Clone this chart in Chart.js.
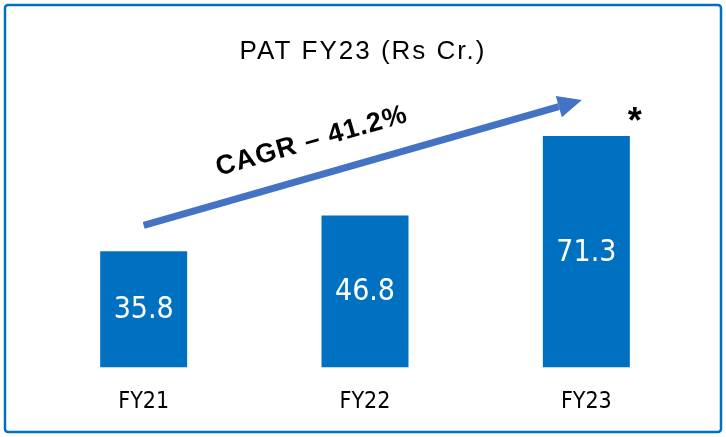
<!DOCTYPE html>
<html>
<head>
<meta charset="utf-8">
<title>PAT FY23</title>
<script src="https://cdn.jsdelivr.net/npm/chart.js@4/dist/chart.umd.min.js"></script>
<style>
    html, body { margin: 0; padding: 0; background: #ffffff; }
    #wrap { width: 726px; height: 437px; position: relative; }
</style>
</head>
<body>
<div id="wrap"><canvas id="graficaPat"></canvas></div>
<script>
// Datos del gráfico
var categorias = ['FY21', 'FY22', 'FY23'];
var valoresPat = [35.8, 46.8, 71.3];
var tituloGrafico = 'PAT FY23 (Rs Cr.)';
var textoCagr = 'CAGR \u2013 41.2%';
var marcaNota = '*';
// Flecha CAGR en coordenadas de datos (índice de categoría, valor)
var flechaDesde = { x: 0, y: 43.8 };
var flechaHasta = { x: 1.98, y: 82.4 };

var azulBarra = '#0070C0';
var azulFlecha = '#4472C4';
var fuenteNarrow = "'DejaVu Sans Condensed', 'Liberation Sans Narrow', sans-serif";
var fuenteNormal = "'Liberation Sans', Arial, sans-serif";

// Plugin: marco, título, flecha, texto CAGR y etiquetas
var pluginDecoracion = {
    id: 'decoracion',
    beforeDraw: function(chart) {
        var ctx = chart.ctx;
        ctx.save();
        ctx.fillStyle = '#ffffff';
        ctx.fillRect(0, 0, chart.width, chart.height);
        // Marco azul
        ctx.strokeStyle = azulBarra;
        ctx.lineWidth = 2.5;
        ctx.beginPath();
        ctx.roundRect(5, 5, chart.width - 10, chart.height - 10, 3);
        ctx.stroke();
        // Título
        ctx.fillStyle = '#000000';
        ctx.font = '26px ' + fuenteNormal;
        ctx.letterSpacing = '2px';
        ctx.textAlign = 'center';
        ctx.textBaseline = 'alphabetic';
        ctx.fillText(tituloGrafico, chart.width / 2, 59);
        ctx.restore();
    },
    afterDatasetsDraw: function(chart) {
        var ctx = chart.ctx;
        var sx = chart.scales.x;
        var sy = chart.scales.y;
        var meta = chart.getDatasetMeta(0);

        // Valores dentro de las barras
        ctx.save();
        ctx.fillStyle = '#ffffff';
        ctx.font = '30px ' + fuenteNarrow;
        ctx.textAlign = 'center';
        ctx.textBaseline = 'middle';
        meta.data.forEach(function(barra, i) {
            var p = barra.getProps(['x', 'y', 'base'], true);
            ctx.fillText(valoresPat[i].toFixed(1), p.x, (p.y + p.base) / 2 + 1);
        });
        ctx.restore();

        // Flecha
        var x1 = sx.getPixelForValue(flechaDesde.x);
        var y1 = sy.getPixelForValue(flechaDesde.y);
        var x2 = sx.getPixelForValue(flechaHasta.x);
        var y2 = sy.getPixelForValue(flechaHasta.y);
        var ang = Math.atan2(y2 - y1, x2 - x1);
        var largoCabeza = 24;
        var anchoCabeza = 22;
        var bx = x2 - largoCabeza * Math.cos(ang);
        var by = y2 - largoCabeza * Math.sin(ang);

        ctx.save();
        ctx.strokeStyle = azulFlecha;
        ctx.fillStyle = azulFlecha;
        ctx.lineWidth = 7;
        ctx.beginPath();
        ctx.moveTo(x1, y1);
        ctx.lineTo(bx, by);
        ctx.stroke();
        ctx.beginPath();
        ctx.moveTo(x2, y2);
        ctx.lineTo(bx + anchoCabeza / 2 * Math.sin(ang), by - anchoCabeza / 2 * Math.cos(ang));
        ctx.lineTo(bx - anchoCabeza / 2 * Math.sin(ang), by + anchoCabeza / 2 * Math.cos(ang));
        ctx.closePath();
        ctx.fill();

        // Texto CAGR sobre la flecha
        var t = 0.405;
        var mx = x1 + (x2 - x1) * t;
        var my = y1 + (y2 - y1) * t;
        ctx.translate(mx, my);
        ctx.rotate(ang);
        ctx.fillStyle = '#000000';
        ctx.font = 'bold 27px ' + fuenteNormal;
        ctx.letterSpacing = '1px';
        ctx.textAlign = 'center';
        ctx.textBaseline = 'alphabetic';
        ctx.fillText(textoCagr, 0, -27);
        ctx.restore();

        // Asterisco junto a la barra FY23
        var ultima = meta.data[meta.data.length - 1].getProps(['x', 'y', 'width'], true);
        ctx.save();
        ctx.fillStyle = '#000000';
        ctx.font = 'bold 36px ' + fuenteNormal;
        ctx.textAlign = 'center';
        ctx.textBaseline = 'alphabetic';
        ctx.fillText(marcaNota, ultima.x + ultima.width / 2 + 5, ultima.y - 3);
        ctx.restore();
    }
};

var ctxPat = document.getElementById('graficaPat').getContext('2d');
var myChartPat = new Chart(ctxPat, {
    type: 'bar',
    data: {
        labels: categorias,
        datasets: [{
            label: 'PAT',
            data: valoresPat,
            backgroundColor: azulBarra,
            borderWidth: 0,
            categoryPercentage: 1,
            barPercentage: 0.393
        }]
    },
    options: {
        responsive: true,
        maintainAspectRatio: false,
        animation: false,
        events: [],
        layout: {
            padding: { left: 33, right: 29, top: 107.8, bottom: 0 }
        },
        plugins: {
            legend: { display: false },
            title: { display: false },
            tooltip: { enabled: false }
        },
        scales: {
            x: {
                grid: { display: false, drawTicks: false },
                border: { display: false },
                ticks: {
                    color: '#000000',
                    padding: 21,
                    font: { family: fuenteNarrow, size: 23 }
                }
            },
            y: {
                display: false,
                min: 0,
                max: 80
            }
        }
    },
    plugins: [pluginDecoracion]
});
</script>
</body>
</html>
